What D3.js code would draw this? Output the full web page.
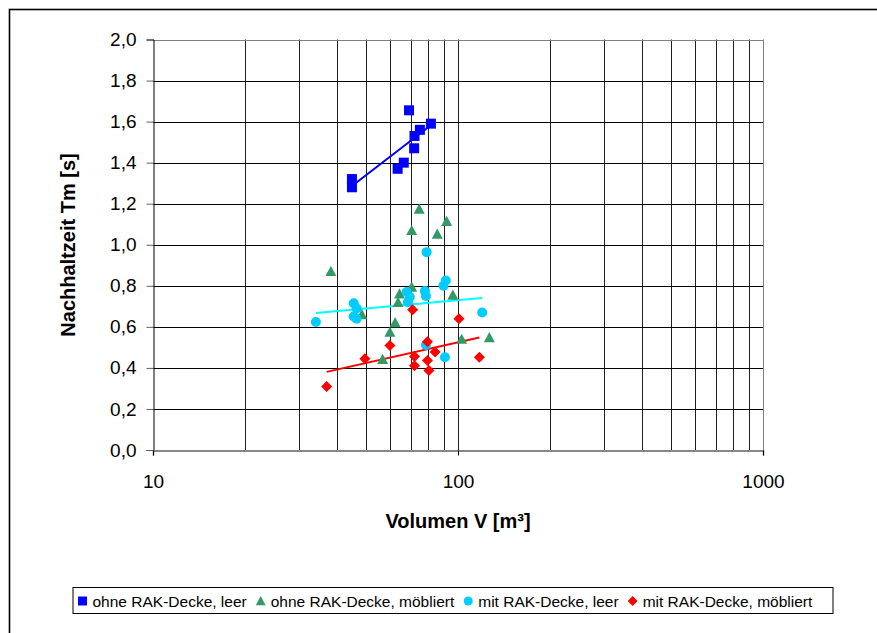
<!DOCTYPE html>
<html>
<head>
<meta charset="utf-8">
<script src="https://cdn.jsdelivr.net/npm/d3@7"></script>
<style>
  body { margin: 0; background: #fff; }
  text { font-family: "Liberation Sans", Arial, sans-serif; }
</style>
</head>
<body>
<svg id="chart" width="877" height="633"></svg>
<script>
// series: volume V [m³] and reverberation time Tm [s]
var blueX  = [44.9, 44.9, 63.4, 66.4, 71.8, 72.0, 75.0, 81.5, 69.1]
var blueY  = [1.32, 1.28, 1.37, 1.40, 1.47, 1.53, 1.56, 1.59, 1.655]

var greenX = [74.6, 91.8, 70.5, 85.5, 38.3, 70.5, 96.2, 64.3, 63.6, 48.4, 62.2, 59.8, 56.6, 102.8, 126.7]
var greenY = [1.174, 1.114, 1.07, 1.052, 0.87, 0.794, 0.755, 0.761, 0.72, 0.66, 0.621, 0.574, 0.442, 0.54, 0.548]

var cyanX  = [34.2, 45.5, 46.5, 45.5, 46.5, 67.9, 69.5, 68.5, 77.9, 78.5, 78.9, 91.2, 89.6, 78.5, 90.6, 120.0]
var cyanY  = [0.624, 0.715, 0.69, 0.65, 0.64, 0.77, 0.745, 0.72, 0.775, 0.75, 0.964, 0.826, 0.80, 0.512, 0.452, 0.67]

var redX   = [37.1, 49.5, 59.8, 71.0, 79.4, 72.0, 72.0, 79.4, 80.3, 84.1, 100.7, 117.5]
var redY   = [0.309, 0.444, 0.509, 0.683, 0.528, 0.455, 0.411, 0.436, 0.387, 0.477, 0.64, 0.452]

var seriesNames = ["ohne RAK-Decke, leer", "ohne RAK-Decke, möbliert", "mit RAK-Decke, leer", "mit RAK-Decke, möbliert"]
var xTickLabels = [10, 100, 1000]
var yTicks = [0, 0.2, 0.4, 0.6, 0.8, 1.0, 1.2, 1.4, 1.6, 1.8, 2.0]

// Excel-like marker shapes (size = approx. box width in px)
var square = {draw: (ctx, s) => { var h = s / 2; ctx.rect(-h, -h, s, s) }}
var triangle = {draw: (ctx, s) => { var h = s / 2; ctx.moveTo(0, -h); ctx.lineTo(h, h * 0.85); ctx.lineTo(-h, h * 0.85); ctx.closePath() }}
var circle = {draw: (ctx, s) => { var h = s / 2; ctx.moveTo(h, 0); ctx.arc(0, 0, h, 0, 2 * Math.PI) }}
var diamond = {draw: (ctx, s) => { var h = s / 2; ctx.moveTo(0, -h); ctx.lineTo(h, 0); ctx.lineTo(0, h); ctx.lineTo(-h, 0); ctx.closePath() }}

var series = [
  {name: seriesNames[0], xs: blueX,  ys: blueY,  sym: square,   size: 10, color: "#0000ff", trend: "#0000ff"},
  {name: seriesNames[1], xs: greenX, ys: greenY, sym: triangle, size: 11, color: "#339966", trend: null},
  {name: seriesNames[2], xs: cyanX,  ys: cyanY,  sym: circle,   size: 10, color: "#00ccff", trend: "#00ffff"},
  {name: seriesNames[3], xs: redX,   ys: redY,   sym: diamond,  size: 11, color: "#ff0000", trend: "#ff0000"}
]

var svg = d3.select("#chart")
var x = d3.scaleLog().domain([10, 1000]).range([153, 763])
var y = d3.scaleLinear().domain([0, 2]).range([450, 39.5])
var comma = v => d3.format(".1f")(v).replace(".", ",")

svg.append("rect").attr("width", 877).attr("height", 633).attr("fill", "#fff")
// outer frame
svg.append("rect")
  .attr("x", 9.5).attr("y", 9.5).attr("width", 900).attr("height", 700)
  .attr("fill", "none").attr("stroke", "#000").attr("stroke-width", 1.6)

// grid
var gridX = d3.range(1, 3).flatMap(p => d3.range(1, 10).map(m => m * Math.pow(10, p))).concat([1000])
svg.append("g")
  .selectAll("line").data(gridX.filter(v => v > 10)).join("line")
  .attr("x1", d => Math.round(x(d)) + 0.5).attr("x2", d => Math.round(x(d)) + 0.5)
  .attr("y1", y(2)).attr("y2", y(0))
  .attr("stroke", d => d === 1000 ? "#808080" : "#202020").attr("stroke-width", 1)
svg.append("g")
  .selectAll("line").data(yTicks.filter(v => v > 0)).join("line")
  .attr("x1", x(10)).attr("x2", x(1000))
  .attr("y1", d => Math.round(y(d)) + 0.5).attr("y2", d => Math.round(y(d)) + 0.5)
  .attr("stroke", d => d === 2 ? "#808080" : "#000").attr("stroke-width", 1)

// axes
var yAxis = d3.axisLeft(y).tickValues(yTicks).tickFormat(comma).tickSize(7).tickPadding(10)
svg.append("g").attr("transform", "translate(153.5,0)").call(yAxis)
  .call(g => g.select(".domain").attr("stroke", "#000"))
  .call(g => g.selectAll(".tick line").attr("stroke", "#606060"))
  .call(g => g.selectAll("text").attr("font-size", 19).attr("fill", "#000"))
var xAxis = d3.axisBottom(x).tickValues(xTickLabels).tickFormat(d3.format("d")).tickSize(5).tickPadding(19)
svg.append("g").attr("transform", "translate(0,450.5)").call(xAxis)
  .call(g => g.select(".domain").attr("stroke", "#606060").attr("stroke-width", 1.5))
  .call(g => g.selectAll(".tick line").attr("stroke", "#000"))
  .call(g => g.selectAll("text").attr("font-size", 19).attr("fill", "#000"))

// axis titles
svg.append("text").attr("x", 458).attr("y", 528).attr("text-anchor", "middle")
  .attr("font-size", 20).attr("font-weight", "bold").text("Volumen V [m³]")
svg.append("text").attr("transform", "translate(75,245) rotate(-90)").attr("text-anchor", "middle")
  .attr("font-size", 20).attr("font-weight", "bold").text("Nachhaltzeit Tm [s]")

// logarithmic trend lines (straight on the log axis) across each series' range
series.filter(s => s.trend).forEach(s => {
  var lx = s.xs.map(Math.log10)
  var mx = d3.mean(lx), my = d3.mean(s.ys)
  var b = d3.sum(lx, (v, i) => (v - mx) * (s.ys[i] - my)) / d3.sum(lx, v => (v - mx) * (v - mx))
  var a = my - b * mx
  var ends = d3.extent(s.xs)
  svg.append("path")
    .attr("d", d3.line().x(v => x(v)).y(v => y(a + b * Math.log10(v)))(ends))
    .attr("fill", "none").attr("stroke", s.trend).attr("stroke-width", 2)
})

// markers
series.forEach(s => {
  svg.append("g").selectAll("path").data(s.xs.map((v, i) => [v, s.ys[i]])).join("path")
    .attr("transform", d => `translate(${x(d[0])},${y(d[1])})`)
    .attr("d", d3.symbol().type(s.sym).size(s.size))
    .attr("fill", s.color)
})

// legend
var leg = svg.append("g")
leg.append("rect").attr("x", 73).attr("y", 587.5).attr("width", 760).attr("height", 26)
  .attr("fill", "#fff").attr("stroke", "#000").attr("stroke-width", 1)
var cx = 82.5
series.forEach(s => {
  leg.append("path").attr("transform", `translate(${cx},601)`)
    .attr("d", d3.symbol().type(s.sym).size(s.size * 0.9)).attr("fill", s.color)
  var t = leg.append("text").attr("x", cx + 10).attr("y", 606.5).attr("font-size", 15.5).text(s.name)
  cx = cx + 10 + t.node().getComputedTextLength() + 14
})
</script>
</body>
</html>
